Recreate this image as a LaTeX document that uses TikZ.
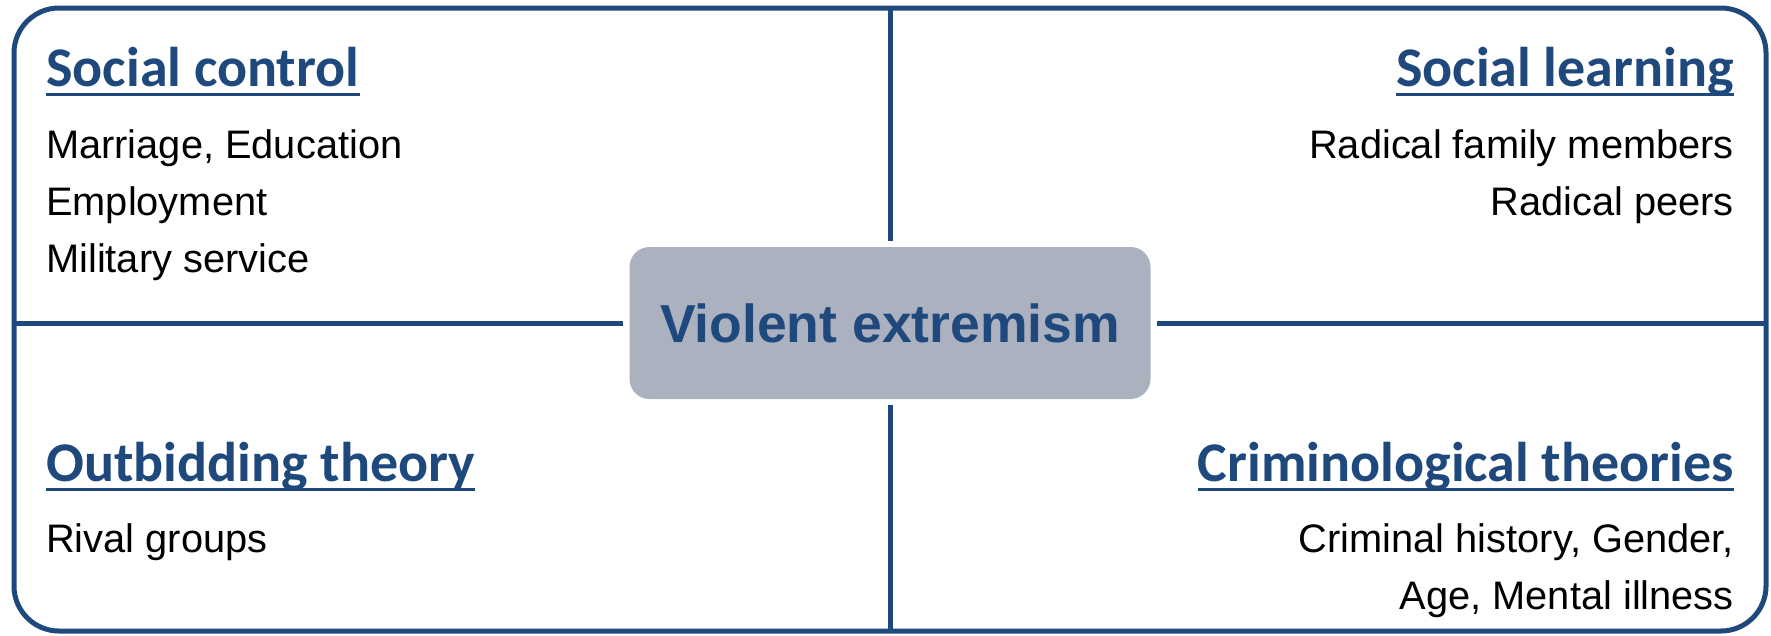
\documentclass[tikz,border=0pt]{standalone}
\usepackage{fontspec}
\setmainfont{Liberation Sans}
\newfontfamily\headfont{Carlito}
\definecolor{navy}{RGB}{31,73,125}
\definecolor{hubgrey}{RGB}{171,177,191}
\tikzset{
  frame/.style={draw=navy, line width=5pt, rounded corners=45pt},
  divider/.style={draw=navy, line width=5pt, shorten >=6pt},
  hub/.style={fill=hubgrey, rounded corners=20pt, minimum width=521pt, minimum height=152pt,
    inner sep=0pt, text=navy, font=\fontsize{53.5}{60}\selectfont\bfseries},
  heading/.style={inner sep=0pt, text=navy, font=\headfont\fontsize{56}{60}\selectfont\bfseries},
  item/.style={inner sep=0pt, font=\fontsize{39.8}{45}\selectfont},
  uline/.style={draw=navy, line width=3pt},
}
\begin{document}
\begin{tikzpicture}[x=1pt,y=-1pt]
      \useasboundingbox (0,0) rectangle (1771,635);
      \draw[frame] (14,8) rectangle (1766,631);
      \node[hub] (ve) at (890,323) {Violent extremism};
      \coordinate (n) at (890,8);
      \coordinate (s) at (890,631);
      \coordinate (w) at (14,323);
      \coordinate (e) at (1766,323);
      \begin{scope}[divider]
        \draw (n) to (ve);
        \draw (s) to (ve);
        \draw (w) to (ve);
        \draw (e) to (ve);
      \end{scope}
      \node[heading, anchor=base west] (sc) at (46,86) {Social control};
      \node[item, anchor=base west] (sc1) at (46,158) {Marriage, Education};
      \node[item, anchor=base west] (sc2) at (46,215) {Employment};
      \node[item, anchor=base west] (sc3) at (46,272) {Military service};
      \node[heading, anchor=base east] (sl) at (1734,86) {Social learning};
      \node[item, anchor=base east] (sl1) at (1734,158) {Radical family members};
      \node[item, anchor=base east] (sl2) at (1734,215) {Radical peers};
      \node[heading, anchor=base west] (ob) at (46,481) {Outbidding theory};
      \node[item, anchor=base west] (ob1) at (46,552) {Rival groups};
      \node[heading, anchor=base east] (ct) at (1734,481) {Criminological theories};
      \node[item, anchor=base east] (ct1) at (1734,552) {Criminal history, Gender,};
      \node[item, anchor=base east] (ct2) at (1734,609) {Age, Mental illness};
      \foreach \h in {sc,sl,ob,ct}
        \draw[uline] ([yshift=-8pt]\h.base west) -- ([yshift=-8pt]\h.base east);
    \end{tikzpicture}
\end{document}
